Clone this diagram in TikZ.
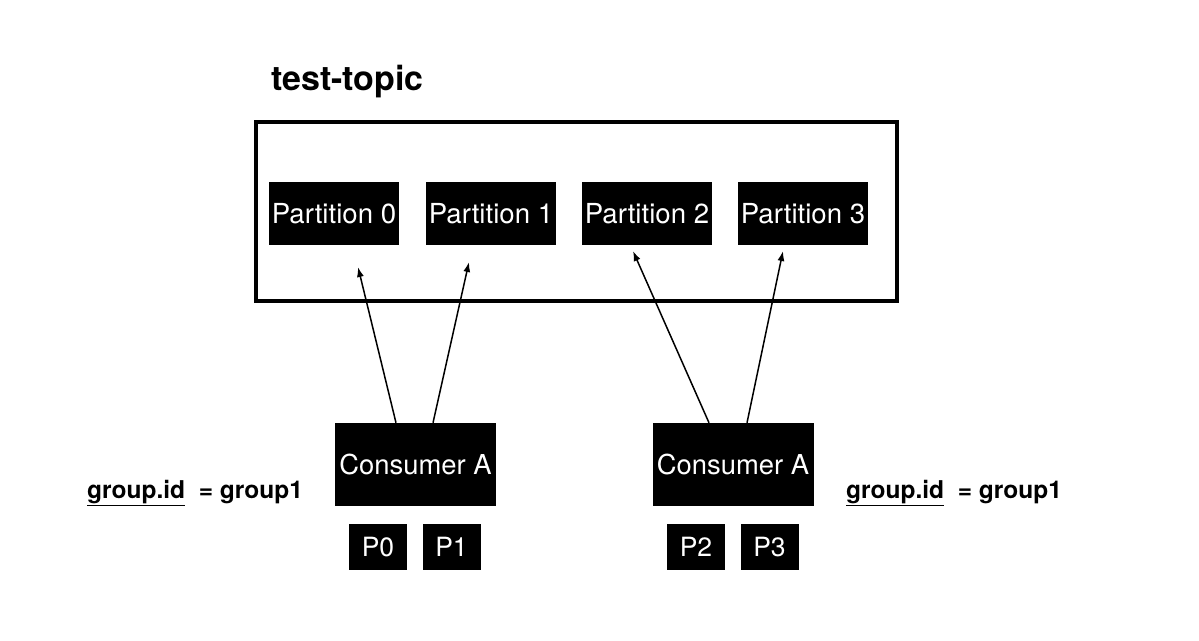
\documentclass[tikz,border=0pt]{standalone}
\usepackage{fontspec}
\setmainfont{TeX Gyre Heros}
\usetikzlibrary{arrows.meta}
\begin{document}
\begin{tikzpicture}[x=1pt,y=-1pt,
  part/.style={fill=black,text=white,minimum width=130pt,minimum height=63pt,inner sep=0pt,font=\fontsize{27.6}{32}\selectfont},
  consumer/.style={fill=black,text=white,minimum width=161pt,minimum height=83pt,inner sep=0pt,font=\fontsize{27.4}{32}\selectfont},
  pbox/.style={fill=black,text=white,minimum width=58pt,minimum height=46pt,inner sep=0pt,font=\fontsize{26.5}{30}\selectfont},
  glabel/.style={anchor=base west,inner sep=0pt,font=\fontsize{24.5}{29}\selectfont\bfseries},
  assign/.style={-{Latex[length=10pt,width=7pt]},line width=1.5pt}]
\useasboundingbox (0,0) rectangle (1199,640);
\node[anchor=base west,inner sep=0pt,font=\fontsize{34}{40}\selectfont\bfseries] (title) at (271,90) {test-topic};
\draw[line width=4pt] (256,122) rectangle (897,301);
\node[part] (p0) at (334,213.5) {Partition 0};
\node[part] (p1) at (491,213.5) {Partition 1};
\node[part] (p2) at (647,213.5) {Partition 2};
\node[part] (p3) at (803,213.5) {Partition 3};
\node[consumer] (cA) at (415.5,464.5) {Consumer A};
\node[consumer] (cB) at (733,464.5) {Consumer A};
\node[pbox] (q0) at (378,547) {P0};
\node[pbox] (q1) at (451.5,547) {P1};
\node[pbox] (q2) at (696,547) {P2};
\node[pbox] (q3) at (769.5,547) {P3};
\node[glabel] (gA) at (87,498) {\underline{group.id}\ \ = group1};
\node[glabel] (gB) at (846,498) {\underline{group.id}\ \ = group1};
% free ends of the arrows
\coordinate (e0) at (358,267);
\coordinate (e1) at (469,262);
\coordinate (e2) at (633,251);
\coordinate (e3) at (783,251);
\draw[assign] ([xshift=-19.5pt]cA.north) -- (e0);
\draw[assign] ([xshift=17.5pt]cA.north) -- (e1);
\draw[assign] ([xshift=-24pt]cB.north) -- (e2);
\draw[assign] ([xshift=14pt]cB.north) -- (e3);
\end{tikzpicture}
\end{document}
